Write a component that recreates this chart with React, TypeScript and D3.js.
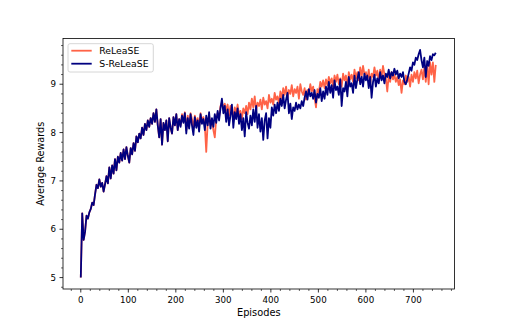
import React from "react";
import * as d3 from "d3";

// Episodes sampled every 3 steps (0..747)
const EPISODE_STEP = 3;

const sReleaseValues: number[] = [
  5.00, 6.33, 5.78, 5.95, 6.28, 6.22, 6.35, 6.42, 6.55, 6.50,
  6.72, 6.92, 6.85, 7.03, 6.88, 6.96, 6.78, 6.93, 7.10, 6.95,
  7.28, 7.05, 7.32, 7.15, 7.45, 7.22, 7.50, 7.38, 7.58, 7.42,
  7.65, 7.45, 7.70, 7.52, 7.38, 7.68, 7.55, 7.78, 7.62, 7.92,
  7.80, 7.98, 7.88, 8.10, 7.95, 8.18, 8.05, 8.25, 8.12, 8.30,
  8.18, 8.40, 8.22, 8.48, 8.15, 7.90, 8.28, 7.75, 8.20, 8.05,
  8.25, 7.82, 8.30, 8.10, 7.98, 8.32, 8.15, 8.38, 8.05, 8.28,
  8.12, 8.35, 8.20, 8.40, 7.98, 8.30, 8.08, 8.38, 8.15, 7.95,
  8.32, 8.10, 8.25, 8.02, 8.38, 8.18, 8.28, 8.05, 8.35, 8.15,
  8.42, 8.08, 8.30, 8.12, 8.38, 8.20, 8.45, 8.25, 8.50, 8.70,
  8.40, 8.55, 8.22, 8.48, 8.15, 8.35, 8.58, 8.10, 8.42, 8.28,
  8.50, 8.18, 8.38, 8.05, 8.30, 7.92, 8.42, 8.20, 8.08, 8.35,
  8.15, 8.48, 8.22, 8.55, 8.10, 8.38, 8.02, 8.30, 7.85, 8.25,
  8.40, 7.88, 8.30, 8.10, 8.52, 8.35, 8.58, 8.40, 8.62, 8.45,
  8.70, 8.55, 8.78, 8.50, 8.68, 8.82, 8.40, 8.60, 8.28, 8.52,
  8.45, 8.62, 8.48, 8.58, 8.50, 8.65, 8.55, 8.72, 8.85, 8.68,
  8.90, 8.75, 8.82, 8.70, 8.88, 8.62, 8.80, 8.72, 8.92, 8.65,
  8.85, 8.70, 8.95, 8.78, 9.05, 8.82, 8.98, 8.72, 9.08, 8.88,
  8.95, 8.78, 9.10, 8.55, 8.92, 8.85, 9.05, 8.75, 9.15, 8.95,
  9.02, 8.82, 9.18, 8.92, 9.10, 9.25, 9.00, 9.15, 8.95, 9.22,
  9.08, 9.18, 8.92, 9.15, 8.72, 9.05, 9.20, 8.95, 9.12, 9.02,
  9.25, 9.08, 9.18, 9.02, 9.22, 9.15, 9.30, 9.12, 9.25, 9.18,
  9.32, 9.20, 9.28, 9.12, 9.22, 9.15, 9.25, 9.05, 9.00, 9.10,
  9.22, 9.35, 9.28, 9.45, 9.40, 9.55, 9.50, 9.62, 9.71, 9.50,
  9.35, 9.55, 9.15, 9.48, 9.38, 9.58, 9.50, 9.62, 9.60, 9.65,
];

const releaseValues: number[] = [
  5.00, 6.33, 5.78, 5.95, 6.28, 6.22, 6.35, 6.42, 6.55, 6.50,
  6.72, 6.92, 6.85, 7.03, 6.88, 6.96, 6.78, 6.93, 7.10, 6.95,
  7.28, 7.05, 7.32, 7.15, 7.45, 7.22, 7.50, 7.38, 7.58, 7.42,
  7.65, 7.45, 7.70, 7.52, 7.38, 7.68, 7.55, 7.78, 7.62, 7.92,
  7.80, 7.98, 7.88, 8.10, 7.95, 8.18, 8.05, 8.25, 8.12, 8.30,
  8.18, 8.40, 8.22, 8.48, 8.15, 7.90, 8.28, 7.75, 8.20, 8.05,
  8.25, 7.82, 8.30, 8.10, 7.98, 8.32, 8.15, 8.38, 8.05, 8.28,
  8.15, 8.38, 8.22, 8.42, 8.05, 8.35, 8.12, 8.40, 8.28, 8.10,
  8.35, 8.18, 8.30, 8.12, 8.40, 8.25, 8.32, 8.15, 7.60, 8.20,
  8.35, 8.15, 8.28, 8.05, 7.90, 8.30, 8.40, 8.32, 8.55, 8.62,
  8.50, 8.60, 8.45, 8.58, 8.35, 8.55, 8.48, 8.30, 8.52, 8.40,
  8.58, 8.35, 8.45, 8.28, 8.50, 8.40, 8.55, 8.38, 8.62, 8.48,
  8.70, 8.52, 8.75, 8.45, 8.62, 8.55, 8.68, 8.48, 8.72, 8.58,
  8.65, 8.50, 8.78, 8.62, 8.70, 8.58, 8.82, 8.68, 8.75, 8.60,
  8.85, 8.70, 8.92, 8.78, 8.95, 8.72, 8.88, 8.80, 8.98, 8.75,
  8.90, 8.82, 8.95, 8.70, 9.00, 8.85, 8.78, 8.92, 8.68, 8.88,
  8.80, 9.00, 8.85, 8.95, 8.72, 8.52, 8.90, 8.82, 9.05, 8.95,
  9.08, 8.92, 9.10, 8.98, 9.15, 9.02, 9.12, 8.95, 9.18, 9.05,
  9.20, 9.00, 9.12, 8.95, 9.22, 9.08, 9.18, 8.90, 9.25, 9.10,
  9.20, 9.05, 9.30, 9.12, 9.25, 9.08, 9.35, 9.15, 9.38, 9.20,
  9.25, 9.10, 9.30, 9.02, 9.22, 9.15, 9.35, 9.18, 9.28, 9.05,
  9.30, 9.15, 9.38, 9.20, 9.12, 8.85, 9.18, 9.05, 9.25, 9.10,
  9.20, 9.05, 9.15, 8.98, 9.10, 8.82, 9.08, 9.00, 9.18, 9.05,
  9.15, 8.95, 9.20, 9.05, 9.25, 9.12, 9.28, 9.02, 9.20, 9.30,
  9.10, 9.35, 9.05, 9.40, 9.00, 9.45, 9.20, 9.45, 9.05, 9.40,
];

const xTickValues = [0, 100, 200, 300, 400, 500, 600, 700];
const yTickValues = [5, 6, 7, 8, 9];
const seriesNames = ["ReLeaSE", "S-ReLeaSE"];
const seriesColors = ["#ff6347", "#000080"];

const W = 505;
const H = 325;
const left = 63;
const right = 454.5;
const top = 38.5;
const bottom = 289;
const FONT = "DejaVu Sans, Verdana, sans-serif";

export default function App() {
  const x = d3.scaleLinear().domain([-37.45, 786.45]).range([left, right]);
  const y = d3.scaleLinear().domain([4.764, 9.946]).range([bottom, top]);

  const line = d3
    .line<number>()
    .x((_, i) => x(i * EPISODE_STEP))
    .y((d) => y(d));

  const xMinor = d3.range(-20, 787, 20).filter((v) => v % 100 !== 0 && x(v) >= left && x(v) <= right);
  const yMinor = d3.range(4.8, 9.95, 0.2).filter((v) => Math.abs(v - Math.round(v)) > 0.01 && y(v) >= top && y(v) <= bottom);

  const series = [releaseValues, sReleaseValues];

  return (
    <svg width={W} height={H} style={{ position: "absolute", left: 0, top: 0, background: "#fff" }}>
      <rect x={0} y={0} width={W} height={H} fill="#fff" />
      <defs>
        <clipPath id="plotclip">
          <rect x={left} y={top} width={right - left} height={bottom - top} />
        </clipPath>
      </defs>
      <g clipPath="url(#plotclip)">
        {series.map((vals, k) => (
          <path
            key={k}
            d={line(vals) || ""}
            fill="none"
            stroke={seriesColors[k]}
            strokeWidth={1.8}
            strokeLinejoin="round"
          />
        ))}
      </g>
      <rect x={left} y={top} width={right - left} height={bottom - top} fill="none" stroke="#000" strokeWidth={0.8} />
      {/* x ticks */}
      {xTickValues.map((v) => (
        <g key={"xt" + v}>
          <line x1={x(v)} x2={x(v)} y1={bottom} y2={bottom + 3.5} stroke="#000" strokeWidth={0.8} />
          <text x={x(v)} y={302.5} fontSize={8.7} fontFamily={FONT} textAnchor="middle" fill="#000">
            {v}
          </text>
        </g>
      ))}
      {xMinor.map((v) => (
        <line key={"xm" + v} x1={x(v)} x2={x(v)} y1={bottom} y2={bottom + 2} stroke="#000" strokeWidth={0.6} />
      ))}
      {/* y ticks */}
      {yTickValues.map((v) => (
        <g key={"yt" + v}>
          <line x1={left - 3.5} x2={left} y1={y(v)} y2={y(v)} stroke="#000" strokeWidth={0.8} />
          <text x={56} y={y(v) + 3.2} fontSize={8.7} fontFamily={FONT} textAnchor="end" fill="#000">
            {v}
          </text>
        </g>
      ))}
      {yMinor.map((v) => (
        <line key={"ym" + v} x1={left - 2} x2={left} y1={y(v)} y2={y(v)} stroke="#000" strokeWidth={0.6} />
      ))}
      <text x={(left + right) / 2} y={315.5} fontSize={9.8} fontFamily={FONT} textAnchor="middle" fill="#000">
        Episodes
      </text>
      <text
        transform={`translate(44.2, ${(top + bottom) / 2}) rotate(-90)`}
        fontSize={9.7}
        fontFamily={FONT}
        textAnchor="middle"
        fill="#000"
      >
        Average Rewards
      </text>
      {/* legend */}
      <rect x={68} y={43.7} width={85.3} height={28.3} rx={2} fill="#fff" fillOpacity={0.8} stroke="#ccc" strokeWidth={0.8} />
      {seriesNames.map((name, k) => (
        <g key={name}>
          <line x1={71.3} x2={91.7} y1={50.7 + k * 13} y2={50.7 + k * 13} stroke={seriesColors[k]} strokeWidth={1.8} />
          <text x={99.3} y={54 + k * 13} fontSize={9.3} fontFamily={FONT} fill="#000">
            {name}
          </text>
        </g>
      ))}
    </svg>
  );
}
